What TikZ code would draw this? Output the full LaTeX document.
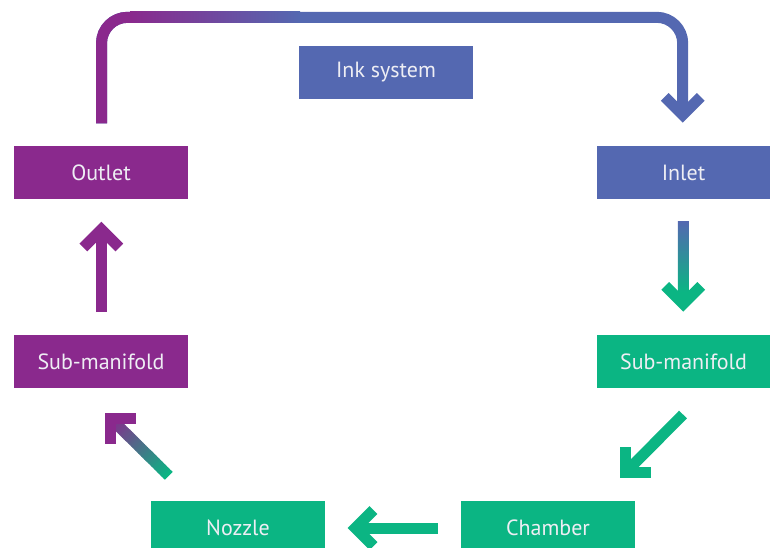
\documentclass[tikz,border=0pt]{standalone}
\usepackage{fontspec}
\setmainfont{PT Sans}
\usetikzlibrary{calc}
\definecolor{cpur}{RGB}{138,41,141}
\definecolor{cblu}{RGB}{84,104,177}
\definecolor{cgrn}{RGB}{11,181,131}
\definecolor{ctxt}{RGB}{238,238,244}
\tikzset{
  box/.style={rectangle, minimum width=174pt, minimum height=53pt, inner sep=0pt,
    text=ctxt, font=\fontsize{22}{26}\selectfont},
  shaft/.style={line width=11pt, line cap=butt},
  chev/.style={line width=11pt, line cap=butt, line join=miter},
}
\newcommand{\chevron}[3]{%
  \draw[chev, #3, shift={(#1)}, rotate=#2] (-25.8pt,18pt) -- (-7.8pt,0pt) -- (-25.8pt,-18pt);}
\begin{document}
\begin{tikzpicture}[x=1pt,y=-1pt]
\useasboundingbox (0,0) rectangle (770,547);
% boxes
\node[box, fill=cblu] (ink) at (386,72.5) {Ink system};
\node[box, fill=cpur] (outlet) at (101,172.5) {Outlet};
\node[box, fill=cblu] (inlet) at (683.5,172.5) {Inlet};
\node[box, fill=cgrn] (subr) at (683.5,361.5) {Sub-manifold};
\node[box, fill=cpur] (subl) at (101,361.5) {Sub-manifold};
\node[box, fill=cgrn] (nozzle) at (238,527.5) {Nozzle};
\node[box, fill=cgrn] (chamber) at (548,527.5) {Chamber};
% arrow ends
\coordinate (a1s) at (101.5,123.3);
\coordinate (a1c) at (682.7,17.3);
\coordinate (a1v) at (682.7,114.9);
\coordinate (a1t) at (682.7,122.7);
\coordinate (a2s) at (683.3,221);
\coordinate (a2v) at (683.3,303.9);
\coordinate (a2t) at (683.3,311.7);
\coordinate (a3s) at (683,414.5);
\coordinate (a3v) at (625.5,472.5);
\coordinate (a3t) at (620,478);
\coordinate (a4s) at (437.7,528);
\coordinate (a4v) at (355.5,528);
\coordinate (a4t) at (347.7,528);
\coordinate (a5s) at (168.8,475.8);
\coordinate (a5v) at (110.5,418.2);
\coordinate (a5t) at (105,412.7);
\coordinate (a6s) at (101.3,312);
\coordinate (a6v) at (101.3,229.5);
\coordinate (a6t) at (101.3,221.7);
% outlet -> inlet loop
\draw[shaft, cblu, rounded corners=26pt] (a1s) |- (a1c) -- (a1v);
\draw[shaft, cpur, rounded corners=26pt] (a1s) |- (131,17.3);
\shade[left color=cpur, right color=cblu] (130,11.8) rectangle (300,22.8);
\chevron{a1t}{-90}{cblu}
% inlet -> sub-manifold
\draw[shaft, cgrn] (a2s) -- (a2v);
\shade[top color=cblu, bottom color=cgrn] (677.8,221) rectangle (688.8,292);
\chevron{a2t}{-90}{cgrn}
% sub-manifold -> chamber
\draw[shaft, cgrn] (a3s) -- (a3v);
\chevron{a3t}{-135}{cgrn}
% chamber -> nozzle
\draw[shaft, cgrn] (a4s) -- (a4v);
\chevron{a4t}{180}{cgrn}
% nozzle -> sub-manifold
\foreach \i in {0,...,39}{%
  \pgfmathtruncatemacro\p{100*\i/39}%
  \pgfmathsetmacro\ta{\i/40}%
  \pgfmathsetmacro\tb{(\i+1.3)/40}%
  \draw[shaft, cpur!\p!cgrn] ($(a5s)!\ta!(a5v)$) -- ($(a5s)!\tb!(a5v)$);
}
\chevron{a5t}{135}{cpur}
% sub-manifold -> outlet
\draw[shaft, cpur] (a6s) -- (a6v);
\chevron{a6t}{90}{cpur}
\end{tikzpicture}
\end{document}
